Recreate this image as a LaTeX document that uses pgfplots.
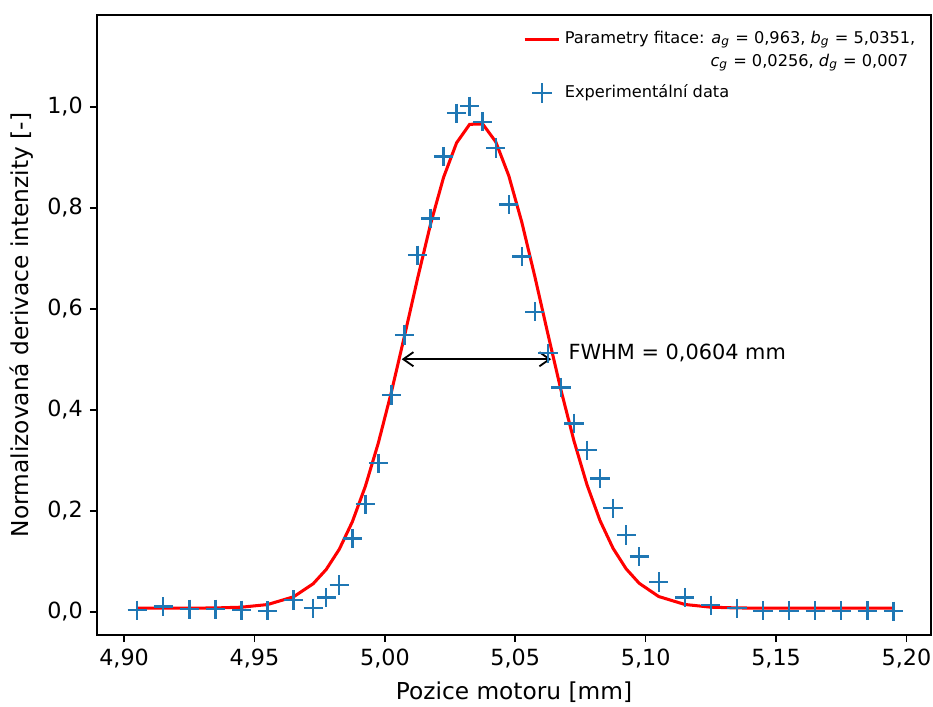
\documentclass[border=0pt]{standalone}
\usepackage{fontspec}
\setmainfont{DejaVu Sans}
\usepackage{pgfplots}
\pgfplotsset{compat=1.18}
\usetikzlibrary{arrows.meta}
\definecolor{mplblue}{HTML}{1F77B4}
\newlength\legw
\AtBeginDocument{\settowidth{\legw}{\fontsize{8}{9.6}\selectfont Parametry fitace: \textit{a}\textsubscript{\textit{g}} = 0,963, \textit{b}\textsubscript{\textit{g}} = 5,0351,}}
\begin{document}
\begin{tikzpicture}
\begin{axis}[
  scale only axis, width=411.9pt, height=306.2pt,
  xmin=4.8896, xmax=5.2094, ymin=-0.046, ymax=1.1816,
  xtick={4.9,4.95,5,5.05,5.1,5.15,5.2},
  ytick={0,0.2,0.4,0.6,0.8,1.0},
  scaled ticks=false,
  x tick label style={/pgf/number format/.cd, fixed, fixed zerofill, precision=2, use comma},
  y tick label style={/pgf/number format/.cd, fixed, fixed zerofill, precision=1, use comma},
  /pgf/number format/assume math mode=true,
  tick label style={font=\fontsize{11}{13}\selectfont},
  label style={font=\fontsize{11.5}{13.8}\selectfont},
  tick align=outside, major tick length=3.5pt,
  tick style={black, line width=0.8pt},
  xtick pos=bottom, ytick pos=left,
  axis line style={line width=0.8pt},
  xlabel={Pozice motoru [mm]},
  ylabel={Normalizovaná derivace intenzity [-]},
  legend cell align=left,
  legend style={draw=none, fill=none, font=\fontsize{8}{9.6}\selectfont,
    at={(rel axis cs:1,1)}, anchor=north east, xshift=-2.5pt, yshift=-4pt,
    row sep=-0.5pt},
]
\coordinate (sw) at (rel axis cs:0,0);
\coordinate (ne) at (rel axis cs:1,1);
\addplot[red, line width=1.5pt] table {
x y
4.905 0.0070
4.915 0.0070
4.925 0.0071
4.935 0.0075
4.945 0.0090
4.955 0.0142
4.965 0.0296
4.9725 0.0554
4.9775 0.0837
4.9825 0.1236
4.9875 0.1779
4.9925 0.2482
4.9975 0.3345
5.0025 0.4351
5.0075 0.5456
5.0125 0.6592
5.0175 0.7673
5.0225 0.8601
5.0275 0.9285
5.0325 0.9651
5.0375 0.9658
5.0425 0.9306
5.0475 0.8634
5.0525 0.7713
5.0575 0.6637
5.0625 0.5501
5.0675 0.4393
5.0725 0.3383
5.0775 0.2513
5.0825 0.1804
5.0875 0.1255
5.0925 0.0850
5.0975 0.0564
5.105 0.0301
5.115 0.0144
5.125 0.0090
5.135 0.0075
5.145 0.0071
5.155 0.0070
5.165 0.0070
5.175 0.0070
5.185 0.0070
5.195 0.0070
};
\addlegendentry{Parametry fitace: \textit{a}\textsubscript{\textit{g}} = 0,963, \textit{b}\textsubscript{\textit{g}} = 5,0351,}
\addlegendimage{legend image code/.code={\path[draw=none] (0pt,-4pt) -- (0pt,-10pt);}}
\addlegendentry{\makebox[\dimexpr\legw-3.5pt][r]{\textit{c}\textsubscript{\textit{g}} = 0,0256, \textit{d}\textsubscript{\textit{g}} = 0,007}}
\addplot[only marks, mark=+, mark size=4.75pt, mplblue, mark options={line width=1.2pt}] table {
x y
4.905 0.003
4.915 0.010
4.925 0.005
4.935 0.005
4.945 0.003
4.955 0.002
4.965 0.023
4.9725 0.007
4.9775 0.028
4.9825 0.053
4.9875 0.145
4.9925 0.213
4.9975 0.294
5.0025 0.429
5.0075 0.548
5.0125 0.706
5.0175 0.779
5.0225 0.901
5.0275 0.987
5.0325 1.001
5.0375 0.970
5.0425 0.918
5.0475 0.806
5.0525 0.703
5.0575 0.594
5.0625 0.512
5.0675 0.444
5.0725 0.373
5.0775 0.320
5.0825 0.264
5.0875 0.205
5.0925 0.152
5.0975 0.109
5.105 0.059
5.115 0.028
5.125 0.013
5.135 0.007
5.145 0.002
5.155 0.002
5.165 0.002
5.175 0.002
5.185 0.002
5.195 0.001
};
\addlegendentry{Experimentální data}
\draw[{Straight Barb[length=5pt,width=7pt]}-{Straight Barb[length=5pt,width=7pt]}, line width=0.9pt, shorten <=2pt, shorten >=2pt]
  (axis cs:5.0049,0.5) -- (axis cs:5.0653,0.5);
\node[anchor=base west, inner sep=0pt, font=\fontsize{10.3}{12}\selectfont] at (axis cs:5.0703,0.5) {FWHM = 0,0604 mm};
\end{axis}
\pgfresetboundingbox
\path[use as bounding box] ([shift={(-47.9pt,-35.1pt)}]sw) rectangle ([shift={(1pt,7.4pt)}]ne);
\end{tikzpicture}
\end{document}
